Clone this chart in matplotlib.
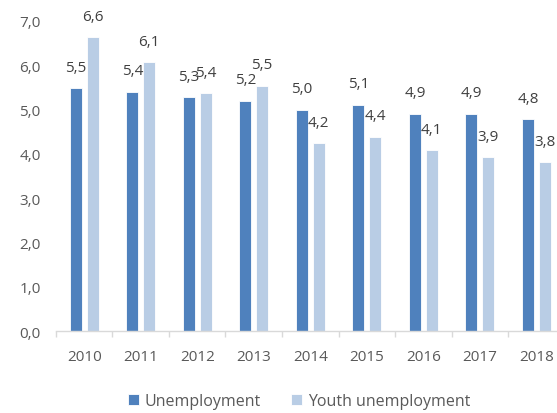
import numpy as np
import matplotlib
matplotlib.use("Agg")
import matplotlib.pyplot as plt
from matplotlib.ticker import FixedLocator

# ---- data ----
years = ["2010", "2011", "2012", "2013", "2014", "2015", "2016", "2017", "2018"]
unemployment = [5.48, 5.40, 5.28, 5.20, 5.00, 5.11, 4.91, 4.91, 4.79]
youth_unemployment = [6.64, 6.07, 5.37, 5.54, 4.24, 4.39, 4.09, 3.92, 3.81]
series_names = ["Unemployment", "Youth unemployment"]

# ---- style ----
C_DARK = "#4F81BD"
C_LIGHT = "#B9CDE5"
C_TICK = "#595959"
C_LABEL = "#404040"
C_AXIS = "#D9D9D9"
FONT = "Open Sans"
FS = 11

plt.rcParams["font.family"] = [FONT, "DejaVu Sans"]

fig = plt.figure(figsize=(5.57, 4.14), dpi=100)
ax = fig.add_axes([0.1005, 0.198, 0.913, 0.749])

x = np.arange(len(years))
W = 0.215
OFF = 0.148
b1 = ax.bar(x - OFF, unemployment, W, color=C_DARK, edgecolor="white", linewidth=0.6,
            label=series_names[0])
b2 = ax.bar(x + OFF, youth_unemployment, W, color=C_LIGHT, edgecolor="white", linewidth=0.6,
            label=series_names[1])

# value labels sit above each bar (2012 ones overlap, as in the original)
for bars in (b1, b2):
    for r in bars:
        h = r.get_height()
        ax.annotate(f"{h:.1f}".replace(".", ","),
                    (r.get_x() + r.get_width() / 2, h),
                    xytext=(0, 15), textcoords="offset points",
                    ha="center", va="center", fontsize=FS, color=C_LABEL)

ax.set_xlim(-0.5, len(years) - 0.5)
ax.set_ylim(0, 7)
ax.set_yticks(np.arange(0, 8, 1))
ax.set_yticklabels([f"{v:.1f}".replace(".", ",") for v in np.arange(0, 8, 1)])
ax.set_xticks(x)
ax.set_xticklabels(years)
ax.xaxis.set_minor_locator(FixedLocator(np.arange(-0.5, len(years), 1)))

for s in ("top", "right", "left"):
    ax.spines[s].set_visible(False)
ax.spines["bottom"].set_color(C_AXIS)
ax.spines["bottom"].set_linewidth(1.0)

ax.tick_params(axis="y", length=0, pad=11, labelsize=FS, labelcolor=C_TICK)
ax.tick_params(axis="x", which="major", length=0, pad=13, labelsize=FS, labelcolor=C_TICK)
ax.tick_params(axis="x", which="minor", length=4, color=C_AXIS, width=1.0)

fig.legend(handles=[b1, b2], loc="center", bbox_to_anchor=(0.537, 0.028), ncol=2,
           frameon=False, fontsize=11.5, labelcolor=C_TICK, handlelength=0.7,
           handleheight=0.7, handletextpad=0.35, columnspacing=1.9)

fig.savefig("out.png", dpi=100)
